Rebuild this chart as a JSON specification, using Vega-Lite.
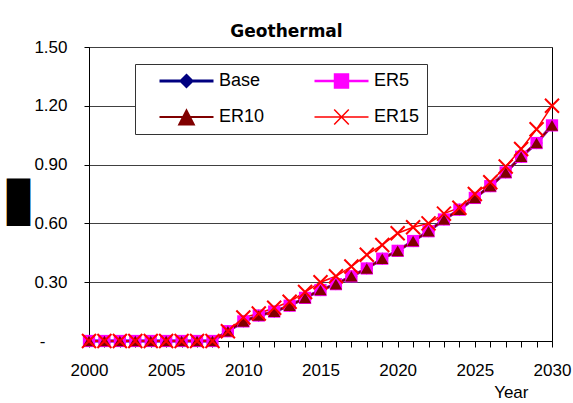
{
  "$schema": "https://vega.github.io/schema/vega-lite/v6.json",
  "width": 463,
  "height": 294,
  "autosize": {"type": "none"},
  "padding": {"left": 89, "top": 47, "right": 21, "bottom": 62},
  "background": "white",
  "title": {
    "text": "Geothermal",
    "font": "DejaVu Sans",
    "fontSize": 17,
    "fontWeight": "bold",
    "color": "black",
    "anchor": "middle",
    "frame": "group",
    "baseline": "alphabetic",
    "offset": -16,
    "dx": -34
  },
  "datasets": {
    "energy": [
      {"year": 2000, "series": "Base", "value": 0},
      {"year": 2001, "series": "Base", "value": 0},
      {"year": 2002, "series": "Base", "value": 0},
      {"year": 2003, "series": "Base", "value": 0},
      {"year": 2004, "series": "Base", "value": 0},
      {"year": 2005, "series": "Base", "value": 0},
      {"year": 2006, "series": "Base", "value": 0},
      {"year": 2007, "series": "Base", "value": 0},
      {"year": 2008, "series": "Base", "value": 0},
      {"year": 2009, "series": "Base", "value": 0.05},
      {"year": 2010, "series": "Base", "value": 0.10},
      {"year": 2011, "series": "Base", "value": 0.13},
      {"year": 2012, "series": "Base", "value": 0.15},
      {"year": 2013, "series": "Base", "value": 0.18},
      {"year": 2014, "series": "Base", "value": 0.22},
      {"year": 2015, "series": "Base", "value": 0.26},
      {"year": 2016, "series": "Base", "value": 0.29},
      {"year": 2017, "series": "Base", "value": 0.33},
      {"year": 2018, "series": "Base", "value": 0.37},
      {"year": 2019, "series": "Base", "value": 0.42},
      {"year": 2020, "series": "Base", "value": 0.46},
      {"year": 2021, "series": "Base", "value": 0.51},
      {"year": 2022, "series": "Base", "value": 0.56},
      {"year": 2023, "series": "Base", "value": 0.62},
      {"year": 2024, "series": "Base", "value": 0.67},
      {"year": 2025, "series": "Base", "value": 0.73},
      {"year": 2026, "series": "Base", "value": 0.79},
      {"year": 2027, "series": "Base", "value": 0.86},
      {"year": 2028, "series": "Base", "value": 0.94},
      {"year": 2029, "series": "Base", "value": 1.01},
      {"year": 2030, "series": "Base", "value": 1.10},
      {"year": 2000, "series": "ER5", "value": 0},
      {"year": 2001, "series": "ER5", "value": 0},
      {"year": 2002, "series": "ER5", "value": 0},
      {"year": 2003, "series": "ER5", "value": 0},
      {"year": 2004, "series": "ER5", "value": 0},
      {"year": 2005, "series": "ER5", "value": 0},
      {"year": 2006, "series": "ER5", "value": 0},
      {"year": 2007, "series": "ER5", "value": 0},
      {"year": 2008, "series": "ER5", "value": 0},
      {"year": 2009, "series": "ER5", "value": 0.05},
      {"year": 2010, "series": "ER5", "value": 0.10},
      {"year": 2011, "series": "ER5", "value": 0.13},
      {"year": 2012, "series": "ER5", "value": 0.15},
      {"year": 2013, "series": "ER5", "value": 0.18},
      {"year": 2014, "series": "ER5", "value": 0.22},
      {"year": 2015, "series": "ER5", "value": 0.26},
      {"year": 2016, "series": "ER5", "value": 0.29},
      {"year": 2017, "series": "ER5", "value": 0.33},
      {"year": 2018, "series": "ER5", "value": 0.37},
      {"year": 2019, "series": "ER5", "value": 0.42},
      {"year": 2020, "series": "ER5", "value": 0.46},
      {"year": 2021, "series": "ER5", "value": 0.51},
      {"year": 2022, "series": "ER5", "value": 0.56},
      {"year": 2023, "series": "ER5", "value": 0.62},
      {"year": 2024, "series": "ER5", "value": 0.67},
      {"year": 2025, "series": "ER5", "value": 0.73},
      {"year": 2026, "series": "ER5", "value": 0.79},
      {"year": 2027, "series": "ER5", "value": 0.86},
      {"year": 2028, "series": "ER5", "value": 0.94},
      {"year": 2029, "series": "ER5", "value": 1.01},
      {"year": 2030, "series": "ER5", "value": 1.10},
      {"year": 2000, "series": "ER10", "value": 0},
      {"year": 2001, "series": "ER10", "value": 0},
      {"year": 2002, "series": "ER10", "value": 0},
      {"year": 2003, "series": "ER10", "value": 0},
      {"year": 2004, "series": "ER10", "value": 0},
      {"year": 2005, "series": "ER10", "value": 0},
      {"year": 2006, "series": "ER10", "value": 0},
      {"year": 2007, "series": "ER10", "value": 0},
      {"year": 2008, "series": "ER10", "value": 0},
      {"year": 2009, "series": "ER10", "value": 0.05},
      {"year": 2010, "series": "ER10", "value": 0.10},
      {"year": 2011, "series": "ER10", "value": 0.13},
      {"year": 2012, "series": "ER10", "value": 0.15},
      {"year": 2013, "series": "ER10", "value": 0.18},
      {"year": 2014, "series": "ER10", "value": 0.22},
      {"year": 2015, "series": "ER10", "value": 0.26},
      {"year": 2016, "series": "ER10", "value": 0.29},
      {"year": 2017, "series": "ER10", "value": 0.33},
      {"year": 2018, "series": "ER10", "value": 0.37},
      {"year": 2019, "series": "ER10", "value": 0.42},
      {"year": 2020, "series": "ER10", "value": 0.46},
      {"year": 2021, "series": "ER10", "value": 0.51},
      {"year": 2022, "series": "ER10", "value": 0.56},
      {"year": 2023, "series": "ER10", "value": 0.62},
      {"year": 2024, "series": "ER10", "value": 0.67},
      {"year": 2025, "series": "ER10", "value": 0.73},
      {"year": 2026, "series": "ER10", "value": 0.79},
      {"year": 2027, "series": "ER10", "value": 0.86},
      {"year": 2028, "series": "ER10", "value": 0.94},
      {"year": 2029, "series": "ER10", "value": 1.01},
      {"year": 2030, "series": "ER10", "value": 1.10},
      {"year": 2000, "series": "ER15", "value": 0},
      {"year": 2001, "series": "ER15", "value": 0},
      {"year": 2002, "series": "ER15", "value": 0},
      {"year": 2003, "series": "ER15", "value": 0},
      {"year": 2004, "series": "ER15", "value": 0},
      {"year": 2005, "series": "ER15", "value": 0},
      {"year": 2006, "series": "ER15", "value": 0},
      {"year": 2007, "series": "ER15", "value": 0},
      {"year": 2008, "series": "ER15", "value": 0},
      {"year": 2009, "series": "ER15", "value": 0.05},
      {"year": 2010, "series": "ER15", "value": 0.12},
      {"year": 2011, "series": "ER15", "value": 0.14},
      {"year": 2012, "series": "ER15", "value": 0.17},
      {"year": 2013, "series": "ER15", "value": 0.20},
      {"year": 2014, "series": "ER15", "value": 0.25},
      {"year": 2015, "series": "ER15", "value": 0.30},
      {"year": 2016, "series": "ER15", "value": 0.33},
      {"year": 2017, "series": "ER15", "value": 0.38},
      {"year": 2018, "series": "ER15", "value": 0.44},
      {"year": 2019, "series": "ER15", "value": 0.49},
      {"year": 2020, "series": "ER15", "value": 0.55},
      {"year": 2021, "series": "ER15", "value": 0.58},
      {"year": 2022, "series": "ER15", "value": 0.60},
      {"year": 2023, "series": "ER15", "value": 0.65},
      {"year": 2024, "series": "ER15", "value": 0.68},
      {"year": 2025, "series": "ER15", "value": 0.75},
      {"year": 2026, "series": "ER15", "value": 0.81},
      {"year": 2027, "series": "ER15", "value": 0.89},
      {"year": 2028, "series": "ER15", "value": 0.98},
      {"year": 2029, "series": "ER15", "value": 1.08},
      {"year": 2030, "series": "ER15", "value": 1.20}
    ]
  },
  "data": {"name": "energy"},
  "encoding": {
    "x": {
      "field": "year",
      "type": "quantitative",
      "scale": {"domain": [2000, 2030], "nice": false, "zero": false},
      "axis": {
        "title": "Year",
        "values": [2000, 2001, 2002, 2003, 2004, 2005, 2006, 2007, 2008, 2009, 2010, 2011, 2012, 2013, 2014, 2015, 2016, 2017, 2018, 2019, 2020, 2021, 2022, 2023, 2024, 2025, 2026, 2027, 2028, 2029, 2030],
        "format": "d",
        "labelExpr": "datum.value % 5 === 0 ? datum.label : ''",
        "labelOverlap": false,
        "labelFlush": false,
        "grid": false,
        "tickSize": 6,
        "labelPadding": 15,
        "titleX": 439,
        "titleY": 56,
        "titleAlign": "right",
        "titleBaseline": "alphabetic",
        "titleAngle": 0
      }
    },
    "y": {
      "field": "value",
      "type": "quantitative",
      "scale": {"domain": [0, 1.5], "nice": false},
      "axis": {
        "title": "▊",
        "values": [0, 0.3, 0.6, 0.9, 1.2, 1.5],
        "labelExpr": "datum.value === 0 ? '-' : format(datum.value, '.2f')",
        "labelPadding": {"condition": {"test": "datum.value === 0", "value": 39}, "value": 17},
        "grid": true,
        "gridColor": "#404040",
        "tickSize": 5,
        "titleFont": "DejaVu Sans",
        "titleFontSize": 40,
        "titleFontWeight": "normal",
        "titleAngle": 0,
        "titleAlign": "center",
        "titleBaseline": "middle",
        "titleX": -67,
        "titleY": 156
      }
    },
    "color": {
      "field": "series",
      "type": "nominal",
      "scale": {
        "domain": ["Base", "ER5", "ER10", "ER15"],
        "range": ["#000080", "#FF00FF", "#800000", "#FF0000"]
      }
    }
  },
  "layer": [
    {
      "mark": {"type": "line", "clip": false},
      "encoding": {
        "strokeWidth": {
          "field": "series",
          "type": "nominal",
          "scale": {"domain": ["Base", "ER5", "ER10", "ER15"], "range": [3, 1.5, 1.5, 2]},
          "legend": null
        },
        "color": {
          "field": "series",
          "type": "nominal",
          "legend": {
            "orient": "none",
            "legendX": 46,
            "legendY": 17,
            "direction": "horizontal",
            "columns": 2,
            "title": null,
            "fillColor": "white",
            "strokeColor": "#333333",
            "padding": 7,
            "symbolSize": 2916,
            "clipHeight": 20,
            "rowPadding": 16,
            "columnPadding": 32,
            "symbolOffset": 16,
            "labelOffset": 4,
            "labelFontSize": 18,
            "labelColor": "black",
            "encode": {
              "symbols": {
                "update": {
                  "shape": {"signal": "datum.value === 'Base' ? 'M-1,0H1M0,-0.2L0.2,0L0,0.2L-0.2,0Z' : datum.value === 'ER5' ? 'M-1,0H1M-0.24,-0.24H0.24V0.24H-0.24Z' : datum.value === 'ER10' ? 'M-1,0H1M0,-0.24L0.27,0.28H-0.27Z' : 'M-1,0H1M-0.27,-0.28L0.27,0.28M-0.27,0.28L0.27,-0.28'"},
                  "strokeWidth": {"signal": "datum.value === 'Base' ? 3 : datum.value === 'ER15' ? 2 : 1.5"},
                  "fill": {"signal": "datum.value === 'Base' ? '#000080' : datum.value === 'ER5' ? '#FF00FF' : datum.value === 'ER10' ? '#800000' : 'transparent'"},
                  "opacity": {"value": 1}
                }
              }
            }
          }
        }
      }
    },
    {
      "transform": [{"filter": "datum.series !== 'ER15'"}],
      "mark": {"type": "point", "filled": true, "opacity": 1, "size": 150, "clip": false},
      "encoding": {
        "shape": {
          "field": "series",
          "type": "nominal",
          "scale": {"domain": ["Base", "ER5", "ER10"], "range": ["diamond", "square", "triangle-up"]},
          "legend": null
        },
        "color": {"field": "series", "type": "nominal", "legend": null}
      }
    },
    {
      "transform": [{"filter": "datum.series === 'ER15'"}],
      "mark": {"type": "point", "filled": false, "opacity": 1, "size": 196, "strokeWidth": 2, "shape": "M-1,-1L1,1M-1,1L1,-1", "clip": false},
      "encoding": {
        "color": {"field": "series", "type": "nominal", "legend": null}
      }
    }
  ],
  "config": {
    "font": "Liberation Sans",
    "view": {"stroke": "black", "strokeWidth": 1},
    "axis": {
      "domainColor": "black",
      "tickColor": "black",
      "labelColor": "black",
      "titleColor": "black",
      "labelFontSize": 17,
      "titleFontSize": 17,
      "titleFontWeight": "normal",
      "labelFont": "Liberation Sans",
      "titleFont": "Liberation Sans"
    }
  }
}
